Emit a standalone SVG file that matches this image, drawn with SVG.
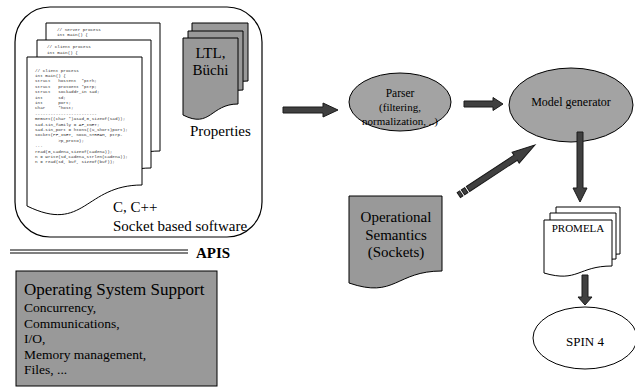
<svg xmlns="http://www.w3.org/2000/svg" width="635" height="388" viewBox="0 0 635 388">
<style>
.t{font-family:"Liberation Serif","Times New Roman",serif;fill:#000}
.code{font-family:"Liberation Mono","Courier New",monospace;font-size:4.3px;fill:#333}
.doc{fill:#fff;stroke:#000;stroke-width:1}
.gdoc{fill:#999;stroke:#000;stroke-width:1}
.arr{fill:#404040;stroke:#1a1a1a;stroke-width:1}
</style>
<rect width="635" height="388" fill="#fff"/>

<g id="software">
<rect x="15" y="7" width="247" height="230" rx="35" ry="35" fill="#fff" stroke="#000" stroke-width="1.2"/>
<path class="doc" d="M46,23 H160 V151 C103,151 103,200 46,172 Z"/>
<text class="code" x="57" y="31">// Server process</text>
<text class="code" x="57" y="36">int main() {</text>
<path class="doc" d="M37,40 H151 V168 C94,168 94,217 37,189 Z"/>
<text class="code" x="47" y="48">// Client process</text>
<text class="code" x="47" y="54">int main() {</text>
<path class="doc" d="M27,57 H142 V185 C84.5,185 84.5,234 27,206 Z"/>
<g class="code">
<text x="35" y="71.5">// Client process</text>
<text x="35" y="77">int main() {</text>
<text x="35" y="82.4">struct<tspan x="58.2">hostent</tspan><tspan x="81.4">*ptrh;</tspan></text>
<text x="35" y="87.8">struct<tspan x="58.2">protoent</tspan><tspan x="81.4">*ptrp;</tspan></text>
<text x="35" y="93.2">struct<tspan x="58.2">sockaddr_in</tspan><tspan x="89.2">sad;</tspan></text>
<text x="35" y="98.6">int<tspan x="58.2">sd;</tspan></text>
<text x="35" y="104">int<tspan x="58.2">port;</tspan></text>
<text x="35" y="109.4">char<tspan x="58.2">*host;</tspan></text>
<text x="35" y="114.8">------------------------</text>
<text x="35" y="120.2">memset((char *)&amp;sad,0,sizeof(sad));</text>
<text x="35" y="125.6">sad.sin_family = AF_INET;</text>
<text x="35" y="131">sad.sin_port = htons((u_short)port);</text>
<text x="35" y="136.4">socket(PF_INET, SOCK_STREAM, ptrp-</text>
<text x="58.2" y="141.8">&gt;p_proto);</text>
<text x="35" y="147.2">...</text>
<text x="35" y="152.6">read(0,cadena,sizeof(cadena));</text>
<text x="35" y="158">n = write(sd,cadena,strlen(cadena));</text>
<text x="35" y="163.4">n = read(sd, buf, sizeof(buf));</text>
</g>
<text class="t" x="113" y="212" font-size="15">C, C++</text>
<text class="t" x="113" y="231" font-size="15">Socket based software</text>
</g>

<g id="properties">
<path class="gdoc" d="M192,23 H248 V81 C220,81 220,103 192,90 Z"/>
<path class="gdoc" d="M188,31 H243 V90 C215.5,90 215.5,113 188,100 Z"/>
<path class="gdoc" d="M183,38 H238 V104 C210.5,104 210.5,129 183,115 Z"/>
<text class="t" x="210.5" y="58" font-size="15" text-anchor="middle">LTL,</text>
<text class="t" x="210.5" y="75" font-size="15" text-anchor="middle">Büchi</text>
<text class="t" x="190" y="136" font-size="15">Properties</text>
</g>

<g id="apis">
<line x1="10" y1="250" x2="188" y2="250" stroke="#000" stroke-width="1"/>
<line x1="10" y1="253" x2="188" y2="253" stroke="#000" stroke-width="1"/>
<text class="t" x="196" y="258" font-size="15" font-weight="bold">APIS</text>
</g>

<g id="os">
<rect x="16" y="271" width="201" height="115" fill="#999" stroke="#000" stroke-width="1"/>
<text class="t" x="24" y="295" font-size="17">Operating System Support</text>
<text class="t" x="24" y="312" font-size="13.5">Concurrency,</text>
<text class="t" x="24" y="327.5" font-size="13.5">Communications,</text>
<text class="t" x="24" y="343" font-size="13.5">I/O,</text>
<text class="t" x="24" y="358.5" font-size="13.5">Memory management,</text>
<text class="t" x="24" y="374" font-size="13.5">Files, ...</text>
</g>

<g id="parser">
<ellipse cx="400" cy="102" rx="51" ry="29" fill="#a3a3a3" stroke="#000" stroke-width="1"/>
<text class="t" x="400" y="97" font-size="11.5" text-anchor="middle">Parser</text>
<text class="t" x="400" y="111" font-size="11" text-anchor="middle">(filtering,</text>
<text class="t" x="400" y="125" font-size="11" text-anchor="middle">normalization, ..)</text>
</g>

<g id="model">
<ellipse cx="571" cy="105" rx="62" ry="37" fill="#a3a3a3" stroke="#000" stroke-width="1"/>
<text class="t" x="571" y="106" font-size="12" text-anchor="middle">Model generator</text>
</g>

<g id="semantics">
<path class="gdoc" d="M349,196 H442 V271 C395.5,271 395.5,299 349,283 Z"/>
<text class="t" x="396" y="222" font-size="15" text-anchor="middle">Operational</text>
<text class="t" x="396" y="240" font-size="15" text-anchor="middle">Semantics</text>
<text class="t" x="396" y="257" font-size="15" text-anchor="middle">(Sockets)</text>
</g>

<g id="promela">
<path class="doc" d="M556,207 H620 V254 C588,254 588,272 556,262 Z"/>
<path class="doc" d="M550,213 H616 V259 C583,259 583,277 550,266 Z"/>
<path class="doc" d="M544,220 H612 V266 C578,266 578,283 544,273 Z"/>
<text class="t" x="578" y="232" font-size="11" text-anchor="middle">PROMELA</text>
</g>

<g id="spin">
<ellipse cx="585" cy="338" rx="52" ry="31" fill="#fff" stroke="#000" stroke-width="1"/>
<text class="t" x="585" y="346" font-size="13" text-anchor="middle">SPIN 4</text>
</g>

<g id="connectors">
<polygon class="arr" points="283,107 323,107 323,103 338,110 323,117 323,113 283,113"/>
<polygon class="arr" points="464,101 493,101 493,97.5 503,104 493,110.5 493,107 464,107"/>
<polygon class="arr" points="577,132 583,132 583,188 587,188 580,202 573,188 577,188"/>
<polygon class="arr" points="582,275 588,275 588,297 592,297 585,305 578,297 582,297"/>
<g transform="translate(468,189) rotate(-33.3)">
<polygon class="arr" points="0,-3 57,-3 57,-6.5 80,0 57,6.5 57,3 0,3"/>
<rect class="arr" x="-6" y="-3" width="4" height="6"/>
<rect class="arr" x="-11" y="-3" width="3" height="6"/>
</g>
</g>
</svg>
